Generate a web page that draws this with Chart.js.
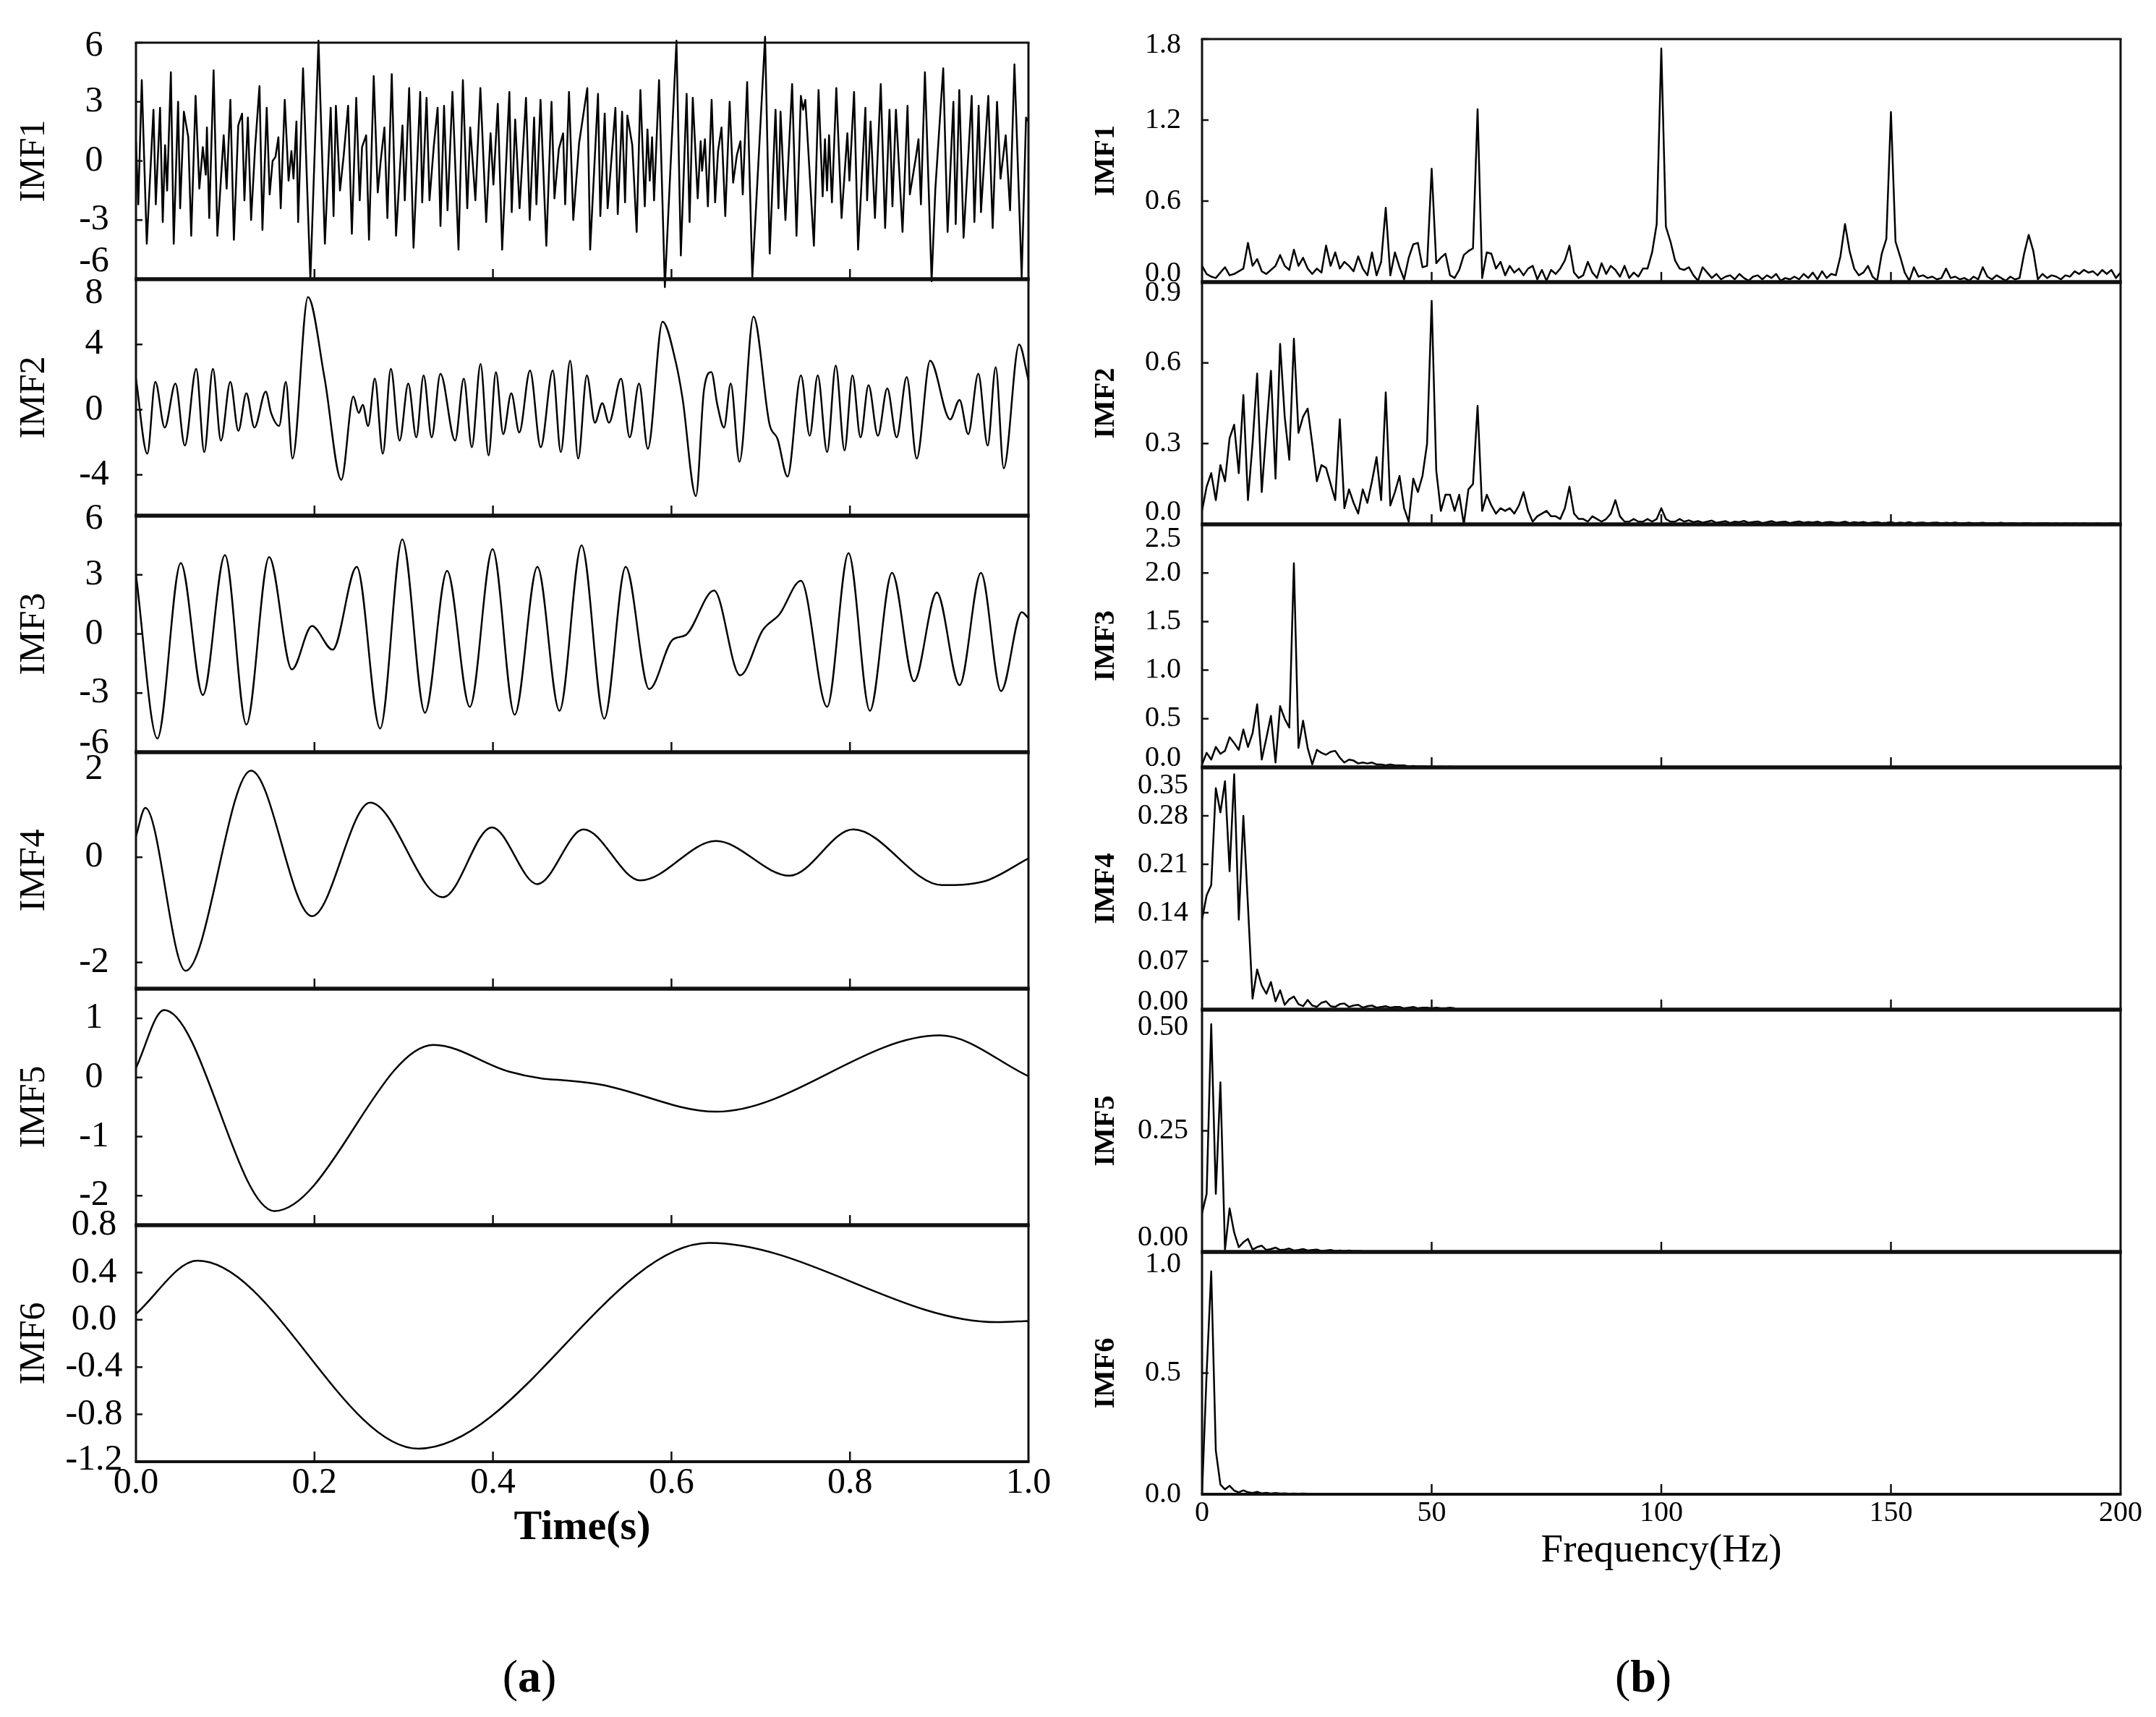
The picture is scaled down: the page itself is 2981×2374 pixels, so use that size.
<!DOCTYPE html>
<html>
<head>
<meta charset="utf-8">
<script src="https://cdn.jsdelivr.net/npm/chart.js@4.4.1/dist/chart.umd.min.js"></script>
<style>
html, body { margin: 0; padding: 0; background: #fff; }
#page { position: relative; width: 2981px; height: 2374px; overflow: hidden; background: #fff; }
#page canvas { position: absolute; }
.cap { position: absolute; font-family: 'Liberation Serif', 'Times New Roman', serif; font-size: 64px; color: #000; transform: translate(-50%, -50%); white-space: nowrap; }
</style>
</head>
<body>
<div id="page">
  <div class="cap" style="left:732px; top:2318px;">(<b>a</b>)</div>
  <div class="cap" style="left:2272px; top:2318px;">(<b>b</b>)</div>
</div>
<script>
// (a) time-domain IMFs, turning points: time (s) / amplitude
var imf1T = [0.000,0.0026,0.0065,0.0121,0.0196,0.0222,0.0270,0.0300,0.0326,0.0349,
  0.0391,0.0423,0.0472,0.0495,0.0537,0.0586,0.0619,0.0668,0.0710,0.0749,
  0.0782,0.0795,0.0821,0.0870,0.0912,0.0983,0.1016,0.1058,0.1097,0.1146,
  0.1189,0.1215,0.1254,0.1290,0.1335,0.1384,0.1417,0.1465,0.1498,0.1531,
  0.1563,0.1596,0.1622,0.1667,0.1710,0.1742,0.1765,0.1798,0.1817,0.1872,
  0.1954,0.2045,0.2117,0.2182,0.2214,0.2240,0.2286,0.2328,0.2377,0.2419,
  0.2468,0.2507,0.2533,0.2579,0.2611,0.2664,0.2709,0.2742,0.2784,0.2817,
  0.2866,0.2914,0.2986,0.3012,0.3061,0.3110,0.3185,0.3207,0.3256,0.3289,
  0.3338,0.3380,0.3412,0.3452,0.3491,0.3546,0.3614,0.3663,0.3712,0.3745,
  0.3803,0.3859,0.3924,0.3973,0.4005,0.4054,0.4103,0.4184,0.4210,0.4249,
  0.4298,0.4370,0.4412,0.4461,0.4487,0.4533,0.4598,0.4656,0.4689,0.4738,
  0.4786,0.4809,0.4852,0.4900,0.4965,0.5057,0.5089,0.5177,0.5203,0.5252,
  0.5285,0.5372,0.5398,0.5447,0.5480,0.5506,0.5561,0.5610,0.5652,0.5701,
  0.5731,0.5757,0.5783,0.5805,0.5861,0.5926,0.6056,0.6105,0.6170,0.6203,
  0.6239,0.6294,0.6327,0.6343,0.6375,0.6408,0.6450,0.6489,0.6522,0.6561,
  0.6603,0.6652,0.6691,0.6733,0.6773,0.6799,0.6848,0.6906,0.7049,0.7101,
  0.7166,0.7199,0.7222,0.7277,0.7352,0.7401,0.7450,0.7475,0.7500,0.7596,
  0.7648,0.7694,0.7720,0.7743,0.7766,0.7798,0.7847,0.7906,0.7971,0.7994,
  0.8046,0.8091,0.8173,0.8192,0.8231,0.8280,0.8345,0.8394,0.8443,0.8476,
  0.8515,0.8589,0.8645,0.8671,0.8736,0.8768,0.8795,0.8840,0.8915,0.8957,
  0.9045,0.9094,0.9159,0.9185,0.9225,0.9273,0.9364,0.9394,0.9442,0.9468,
  0.9550,0.9599,0.9648,0.9687,0.9745,0.9794,0.9843,0.9924,0.9973,1.0000];
var imf1V = [1.0,-2.2,4.1,-4.2,2.6,-2.2,2.7,-3.1,0.8,-1.5,
  4.5,-4.2,3.0,-2.4,2.5,1.2,-3.8,3.3,-1.4,0.7,
  -0.7,1.7,-2.9,4.6,-3.8,1.3,-1.4,3.1,-4.0,1.8,
  2.4,-2.0,2.2,-3.0,0.7,3.8,-3.5,2.7,-1.7,0.0,
  0.2,1.2,-2.4,3.1,-1.0,0.5,-0.9,2.0,-3.1,4.7,
  -6.0,6.1,-4.2,2.7,-2.8,2.8,-1.5,0.3,2.8,-3.7,
  3.2,-2.0,0.7,1.3,-4.0,4.3,-1.6,0.0,1.7,-2.9,
  4.4,-3.8,1.8,-2.0,3.7,-4.4,3.5,-2.1,3.2,-2.0,
  0.8,2.7,-3.3,2.8,-2.5,3.5,-4.5,4.1,-2.4,1.7,
  -2.0,3.7,-3.1,1.4,-1.2,2.9,-4.5,3.5,-2.6,2.1,
  -2.4,3.2,-3.0,2.2,-2.2,3.1,-4.3,3.0,-1.9,0.6,
  1.4,-2.2,3.5,-3.0,0.9,3.7,-4.5,3.4,-2.8,2.4,
  -2.4,2.7,-2.7,2.5,-2.1,2.3,0.8,-3.6,3.6,-2.3,
  1.6,-1.0,1.2,-2.0,4.1,-6.4,6.1,-4.8,3.4,-3.1,
  3.2,-1.9,1.0,-0.5,1.1,-2.3,3.1,-2.1,0.5,1.7,
  -2.8,3.0,-1.1,0.3,1.0,-1.7,4.0,-5.9,6.3,-4.7,
  2.6,-2.4,2.5,-3.0,3.9,-3.8,3.3,2.6,3.1,-4.3,
  3.6,-1.8,1.1,-1.5,1.3,-2.1,3.7,-2.9,1.4,-1.0,
  3.5,-4.5,2.7,-2.0,2.0,-2.9,3.9,-3.4,2.6,-2.3,
  2.6,-3.6,2.8,-1.7,0.1,1.1,-2.2,4.5,-6.1,-1.4,
  4.7,-3.6,3.0,-3.2,3.6,-3.9,3.3,-3.1,2.8,-2.6,
  3.3,-3.4,3.0,-0.9,1.3,-2.5,4.9,-5.9,2.2,2.0];

var imf2T = [0,0.0127,0.0217,0.0322,0.0442,0.0547,0.0675,0.0765,0.0862,0.0952,
  0.1057,0.1147,0.1237,0.1327,0.1454,0.1514,0.1604,0.1679,0.1754,0.1927,
  0.2114,0.2301,0.2436,0.2496,0.2541,0.2601,0.2676,0.2766,0.2856,0.2954,
  0.3051,0.3141,0.3223,0.3313,0.3411,0.3576,0.3673,0.3763,0.3861,0.3951,
  0.4033,0.4115,0.4205,0.4295,0.4415,0.4535,0.4670,0.4760,0.4865,0.4955,
  0.5052,0.5142,0.5225,0.5300,0.5435,0.5532,0.5637,0.5735,0.5900,0.6049,
  0.6124,0.6274,0.6364,0.6447,0.6514,0.6589,0.6664,0.6762,0.6919,0.7099,
  0.7189,0.7301,0.7451,0.7549,0.7639,0.7744,0.7841,0.7939,0.8028,0.8118,
  0.8208,0.8313,0.8418,0.8523,0.8636,0.8748,0.8898,0.9123,0.9228,0.9325,
  0.9438,0.9543,0.9633,0.9723,0.9895,1.0];
var imf2V = [1.9,-2.7,1.7,-1.1,1.6,-2.2,2.5,-2.6,2.5,-1.9,
  1.7,-1.3,1.0,-1.1,1.1,-0.2,-1.0,1.7,-3.0,6.9,
  1.9,-4.3,0.8,-0.2,0.3,-1.0,1.9,-2.7,2.5,-1.9,
  1.6,-1.7,2.1,-1.7,2.2,-1.9,1.9,-2.3,2.8,-2.8,
  2.3,-1.5,1.0,-1.4,2.4,-2.3,2.4,-2.6,3.0,-3.0,
  2.1,-0.8,0.4,-0.8,1.9,-1.7,1.6,-2.4,5.4,2.9,
  0.7,-5.3,1.2,2.3,0.3,-1.1,1.6,-3.2,5.7,-0.9,
  -1.8,-4.1,2.1,-1.6,2.1,-2.6,2.7,-2.5,2.1,-1.7,
  1.5,-1.6,1.3,-1.7,2.0,-3.0,3.0,-0.6,0.6,-1.5,
  2.2,-2.2,2.6,-3.6,4.0,1.8];

var imf3T = [0,0.024,0.0502,0.075,0.0997,0.1237,0.1492,0.1747,0.1972,0.2204,
  0.2474,0.2736,0.2984,0.3238,0.3486,0.3741,0.3996,0.4243,0.4498,0.4745,
  0.4993,0.5247,0.5487,0.575,0.6012,0.6162,0.6477,0.6769,0.7024,0.7211,
  0.7451,0.7744,0.7984,0.8223,0.8471,0.8718,0.8973,0.9228,0.9468,0.9693,
  0.9925,1.0];
var imf3V = [3.0,-5.3,3.6,-3.1,4.0,-4.6,3.9,-1.8,0.4,-0.8,
  3.4,-4.8,4.8,-4.0,3.2,-3.7,4.3,-4.1,3.4,-3.9,
  4.5,-4.3,3.4,-2.8,-0.3,-0.05,2.2,-2.1,0.2,1.0,
  2.7,-3.7,4.1,-3.9,3.1,-2.4,2.1,-2.6,3.1,-2.9,
  1.1,0.8];

var imf4T = [0,0.0105,0.0555,0.1289,0.1972,0.2624,0.3441,0.3988,0.4498,0.5015,
  0.5652,0.6499,0.7324,0.8036,0.9033,0.9498,1.0];
var imf4V = [0.4,0.94,-2.16,1.65,-1.12,1.04,-0.76,0.57,-0.51,0.53,
  -0.44,0.31,-0.35,0.53,-0.53,-0.46,-0.02];

var imf5T = [0,0.0315,0.1552,0.3336,0.4175,0.455,0.48,0.52,0.65,0.901,1.0];
var imf5V = [0.16,1.14,-2.26,0.55,0.10,-0.02,-0.05,-0.12,-0.58,0.71,0.02];

var imf6T = [0,0.069,0.3163,0.6424,0.9648,1.0];
var imf6V = [0.05,0.50,-1.09,0.65,-0.02,-0.01];

// (b) amplitude spectra, one value per 1 Hz bin starting at 0 Hz
var spec1 = [0.12,0.06,0.04,0.03,0.07,0.11,0.05,0.06,0.08,0.10,
  0.29,0.12,0.17,0.08,0.06,0.09,0.12,0.20,0.12,0.09,
  0.24,0.12,0.18,0.10,0.06,0.10,0.07,0.27,0.12,0.22,
  0.10,0.15,0.12,0.08,0.19,0.10,0.05,0.22,0.05,0.15,
  0.55,0.05,0.22,0.11,0.02,0.18,0.28,0.29,0.11,0.12,
  0.84,0.14,0.18,0.21,0.05,0.03,0.09,0.20,0.23,0.25,
  1.28,0.03,0.22,0.21,0.10,0.15,0.05,0.12,0.07,0.10,
  0.05,0.10,0.12,0.02,0.09,0.01,0.09,0.06,0.10,0.16,
  0.27,0.07,0.03,0.05,0.15,0.07,0.03,0.14,0.06,0.12,
  0.09,0.04,0.12,0.03,0.07,0.04,0.10,0.10,0.22,0.43,
  1.73,0.41,0.30,0.16,0.10,0.09,0.11,0.05,0.01,0.11,
  0.07,0.03,0.06,0.02,0.04,0.05,0.02,0.06,0.03,0.01,
  0.04,0.05,0.02,0.05,0.03,0.06,0.01,0.03,0.02,0.04,
  0.02,0.06,0.03,0.07,0.02,0.08,0.03,0.06,0.05,0.19,
  0.43,0.23,0.10,0.05,0.07,0.12,0.04,0.01,0.21,0.32,
  1.26,0.30,0.19,0.07,0.01,0.11,0.04,0.05,0.03,0.04,
  0.02,0.03,0.10,0.03,0.04,0.02,0.03,0.01,0.04,0.02,
  0.11,0.04,0.02,0.05,0.03,0.01,0.04,0.02,0.03,0.21,
  0.35,0.23,0.02,0.06,0.03,0.05,0.04,0.02,0.05,0.04,
  0.08,0.06,0.09,0.07,0.08,0.05,0.09,0.06,0.09,0.03,0.07];
var spec2 = [0.05,0.14,0.19,0.09,0.22,0.16,0.32,0.37,0.19,0.48,
  0.09,0.30,0.56,0.12,0.35,0.57,0.17,0.67,0.40,0.24,
  0.69,0.34,0.40,0.43,0.30,0.16,0.22,0.21,0.15,0.09,
  0.39,0.06,0.13,0.08,0.04,0.13,0.08,0.16,0.25,0.09,
  0.49,0.07,0.12,0.18,0.06,0.01,0.17,0.12,0.18,0.30,
  0.83,0.20,0.05,0.11,0.11,0.05,0.11,0.00,0.13,0.15,
  0.44,0.05,0.11,0.07,0.04,0.06,0.05,0.06,0.04,0.07,
  0.12,0.05,0.01,0.03,0.04,0.05,0.03,0.03,0.02,0.06,
  0.14,0.04,0.02,0.02,0.01,0.03,0.02,0.01,0.02,0.04,
  0.09,0.03,0.01,0.01,0.02,0.01,0.01,0.02,0.01,0.02,
  0.06,0.02,0.01,0.01,0.02,0.010,0.015,0.008,0.012,0.006,
  0.010,0.014,0.006,0.009,0.012,0.005,0.010,0.008,0.013,0.006,
  0.009,0.011,0.005,0.008,0.012,0.006,0.009,0.010,0.005,0.008,
  0.011,0.006,0.009,0.007,0.010,0.005,0.008,0.009,0.006,0.007,
  0.010,0.005,0.008,0.006,0.009,0.005,0.007,0.008,0.005,0.006,
  0.008,0.004,0.007,0.005,0.008,0.004,0.006,0.007,0.004,0.006,
  0.007,0.004,0.006,0.005,0.007,0.004,0.005,0.006,0.004,0.005,
  0.006,0.004,0.005,0.004,0.006,0.003,0.005,0.004,0.003,0.005,
  0.005,0.003,0.004,0.004,0.005,0.003,0.004,0.003,0.004,0.003,
  0.004,0.003,0.004,0.003,0.003,0.004,0.003,0.003,0.004,0.003,0.003];
var spec3 = [0.03,0.15,0.08,0.21,0.14,0.17,0.31,0.25,0.18,0.39,
  0.21,0.35,0.65,0.08,0.30,0.53,0.05,0.63,0.50,0.41,
  2.10,0.20,0.48,0.20,0.03,0.18,0.15,0.13,0.16,0.17,
  0.10,0.05,0.08,0.07,0.04,0.05,0.04,0.05,0.03,0.03,
  0.02,0.03,0.02,0.02,0.02,0.01,0.015,0.01,0.012,0.008,
  0.01,0.006,0.008,0.005,0.007,0.004,0.006,0.004,0.005,0.003,0.004];
var spec4 = [0.13,0.165,0.18,0.32,0.285,0.33,0.20,0.34,0.13,0.28,
  0.15,0.016,0.058,0.035,0.023,0.04,0.012,0.028,0.007,0.015,
  0.019,0.008,0.005,0.014,0.006,0.004,0.010,0.012,0.005,0.004,
  0.008,0.009,0.004,0.006,0.007,0.003,0.005,0.006,0.003,0.004,
  0.005,0.003,0.004,0.004,0.002,0.003,0.004,0.002,0.003,0.003,
  0.002,0.003,0.002,0.002,0.003,0.002];
var spec5 = [0.08,0.12,0.47,0.12,0.35,0.005,0.09,0.04,0.01,0.02,
  0.027,0.005,0.01,0.013,0.004,0.006,0.009,0.004,0.005,0.007,
  0.003,0.004,0.006,0.003,0.004,0.005,0.002,0.003,0.004,0.002,
  0.003,0.002,0.003,0.002,0.002,0.002];
var spec6 = [0.00,0.50,0.92,0.18,0.04,0.02,0.035,0.015,0.008,0.016,
  0.008,0.005,0.01,0.004,0.006,0.003,0.005,0.003,0.004,0.002,
  0.003,0.002,0.003,0.002,0.002,0.002];

// axis ranges and tick labels
var imfNames = ['IMF1', 'IMF2', 'IMF3', 'IMF4', 'IMF5', 'IMF6'];
var timeRanges = [[-6, 6], [-6.5, 8], [-6, 6], [-2.5, 2], [-2.5, 1.5], [-1.2, 0.8]];
var timeTickLabels = [['6','3','0','-3','-6'], ['8','4','0','-4'], ['6','3','0','-3','-6'],
  ['2','0','-2'], ['1','0','-1','-2'], ['0.8','0.4','0.0','-0.4','-0.8','-1.2']];
var freqRanges = [[0, 1.8], [0, 0.9], [0, 2.5], [0, 0.35], [0, 0.5], [0, 1.0]];
var freqTickLabels = [['1.8','1.2','0.6','0.0'], ['0.9','0.6','0.3','0.0'],
  ['2.5','2.0','1.5','1.0','0.5','0.0'], ['0.35','0.28','0.21','0.14','0.07','0.00'],
  ['0.50','0.25','0.00'], ['1.0','0.5','0.0']];
var timeMarks = [0.2, 0.4, 0.6, 0.8];
var freqMarks = [50, 100, 150];

var FONT = "'Liberation Serif', 'Times New Roman', serif";
Chart.defaults.font.family = FONT;
Chart.defaults.color = '#000';
var page = document.getElementById('page');

var LEFT = {
  x0: 0, plotR: 1422, yW: 188, width: 1480,
  tops: [59, 386, 713, 1040, 1367, 1694, 2021],
  labelX: 130, labelSize: 50, nameSize: 50, nameWeight: 'normal', namePad: 18,
  marks: timeMarks, nudges: [[5, -24], [20, 0], [5, -12], [24, 0], [0, 0], [0, -2]],
  axisH: 150, tickSize: 50, tickPad: 0, xMax: 1, xStep: 0.2,
  fmt: function (v) { return v.toFixed(1); },
  title: 'Time(s)', titleSize: 58, titleWeight: 'bold', titlePad: 23
};
var RIGHT = {
  x0: 1480, plotR: 2932, yW: 182, width: 1501,
  tops: [54, 390, 725, 1061, 1396, 1731, 2066],
  labelX: 1608, labelSize: 40, nameSize: 40, nameWeight: 'bold', namePad: 26,
  marks: freqMarks, nudges: [[8, -12], [15, -17], [20, -13], [25, -11], [24, -20], [17, 0]],
  axisH: 130, tickSize: 40, tickPad: 2, xMax: 200, xStep: 50,
  fmt: function (v) { return String(v); },
  title: 'Frequency(Hz)', titleSize: 55, titleWeight: 'normal', titlePad: 18
};

// frame, inward ticks and y labels of one panel
function framePlugin(side, i, labels, last) {
  return {
    id: 'frame',
    afterDatasetsDraw: function (chart) {
      var ctx = chart.ctx, a = chart.chartArea;
      var x = chart.scales.x, y = chart.scales.y;
      ctx.save();
      ctx.strokeStyle = '#111';
      ctx.lineWidth = 2.5;
      ctx.beginPath();
      side.marks.forEach(function (v) {
        var px = x.getPixelForValue(v);
        ctx.moveTo(px, a.bottom); ctx.lineTo(px, a.bottom - 14);
      });
      labels.forEach(function (s) {
        var py = y.getPixelForValue(parseFloat(s));
        ctx.moveTo(a.left, py); ctx.lineTo(a.left + 9, py);
      });
      ctx.stroke();

      ctx.lineWidth = 3;
      ctx.beginPath();
      ctx.moveTo(a.left, a.top); ctx.lineTo(a.left, a.bottom);
      ctx.moveTo(a.right, a.top); ctx.lineTo(a.right, a.bottom);
      ctx.stroke();
      ctx.lineWidth = i === 0 ? 3 : 5;
      ctx.beginPath(); ctx.moveTo(a.left - 1.5, a.top); ctx.lineTo(a.right + 1.5, a.top); ctx.stroke();
      ctx.lineWidth = last ? 4 : 5;
      ctx.beginPath(); ctx.moveTo(a.left - 1.5, a.bottom); ctx.lineTo(a.right + 1.5, a.bottom); ctx.stroke();

      ctx.fillStyle = '#000';
      ctx.font = side.labelSize + 'px ' + FONT;
      ctx.textAlign = 'center';
      ctx.textBaseline = 'middle';
      labels.forEach(function (s) {
        var v = parseFloat(s);
        var py = y.getPixelForValue(v);
        if (v === y.max) py += side.nudges[i][0];
        else if (v === y.min) py += side.nudges[i][1];
        ctx.fillText(s, side.labelX - side.x0, py);
      });
      ctx.restore();
    }
  };
}

function panel(side, i, points, range, labels, smooth, clipY) {
  var PAD = 50;
  var top = side.tops[i];
  var h = side.tops[i + 1] - top;
  var last = i === side.tops.length - 2;
  var cv = document.createElement('canvas');
  cv.width = side.width;
  cv.height = PAD + h + (last ? side.axisH : PAD);
  cv.style.left = side.x0 + 'px';
  cv.style.top = (top - PAD) + 'px';
  page.appendChild(cv);

  new Chart(cv, {
    type: 'line',
    data: {
      datasets: [{
        data: points,
        borderColor: '#000',
        borderWidth: 2.5,
        borderJoinStyle: 'round',
        pointRadius: 0,
        tension: 0,
        cubicInterpolationMode: smooth ? 'monotone' : 'default',
        clip: { left: 0, right: 0, top: clipY, bottom: clipY }
      }]
    },
    options: {
      responsive: false,
      animation: false,
      devicePixelRatio: 1,
      events: [],
      layout: { padding: { left: 0, right: side.width - (side.plotR - side.x0), top: PAD, bottom: last ? 0 : PAD } },
      plugins: { legend: { display: false }, tooltip: { enabled: false } },
      scales: {
        x: {
          type: 'linear', min: 0, max: side.xMax, display: last,
          afterFit: function (s) { s.height = last ? side.axisH : 0; },
          grid: { display: false, drawTicks: false },
          border: { display: false },
          ticks: {
            stepSize: side.xStep, autoSkip: false, maxRotation: 0, padding: side.tickPad,
            color: '#000', font: { family: FONT, size: side.tickSize }, callback: side.fmt
          },
          title: {
            display: true, text: side.title, color: '#000',
            font: { family: FONT, size: side.titleSize, weight: side.titleWeight },
            padding: { top: 0, bottom: side.titlePad }
          }
        },
        y: {
          type: 'linear', min: range[0], max: range[1],
          afterFit: function (s) { s.width = side.yW; },
          ticks: { display: false },
          grid: { display: false, drawTicks: false },
          border: { display: false },
          title: {
            display: true, text: imfNames[i], color: '#000',
            font: { family: FONT, size: side.nameSize, weight: side.nameWeight },
            padding: { top: side.namePad, bottom: 0 }
          }
        }
      }
    },
    plugins: [framePlugin(side, i, labels, last)]
  });
}

function pairs(ts, vs) { return ts.map(function (t, k) { return { x: t, y: vs[k] }; }); }
function bins(vs) { return vs.map(function (v, k) { return { x: k, y: v }; }); }

var timeSeries = [pairs(imf1T, imf1V), pairs(imf2T, imf2V), pairs(imf3T, imf3V),
  pairs(imf4T, imf4V), pairs(imf5T, imf5V), pairs(imf6T, imf6V)];
var spectra = [bins(spec1), bins(spec2), bins(spec3), bins(spec4), bins(spec5), bins(spec6)];

for (var i = 0; i < 6; i++) {
  panel(LEFT, i, timeSeries[i], timeRanges[i], timeTickLabels[i], i > 0, i === 0 ? 14 : 2);
  panel(RIGHT, i, spectra[i], freqRanges[i], freqTickLabels[i], false, 2);
}
</script>
</body>
</html>
